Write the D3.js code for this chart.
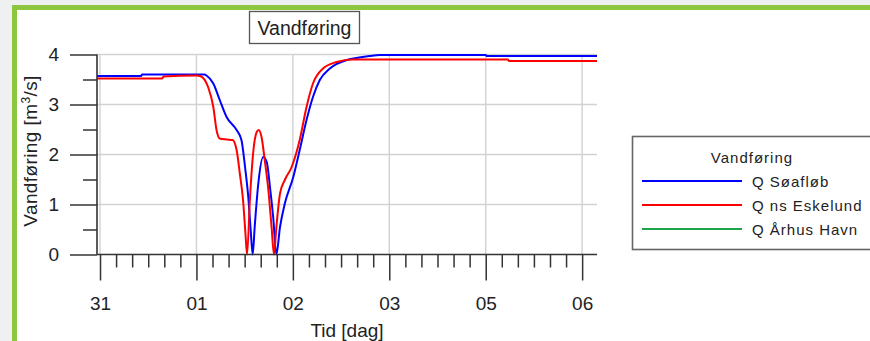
<!DOCTYPE html>
<html>
<head>
<meta charset="utf-8">
<script src="https://cdn.jsdelivr.net/npm/d3@7"></script>
<style>
  html, body { margin: 0; padding: 0; background: #eef0f2; }
  svg { display: block; }
  text { font-family: "Liberation Sans", Arial, sans-serif; fill: #222; }
</style>
</head>
<body>
<svg id="chart" width="870" height="341"></svg>
<script>
// Discharge time series, hours counted from midnight of day "31"
const soeHours = [-0.75, 10.2, 10.5, 26.0, 26.5, 28.2, 29.8, 31.5, 34.0, 35.2, 36.1, 36.9, 37.5, 38.0, 38.5, 39.4, 40.6, 41.5, 42.3, 43.1, 43.9, 44.8, 46.0, 48.1, 49.7, 51.4, 53.0, 54.7, 57.2, 61.4, 64.5, 67.1, 69.6, 96.0, 96.3, 123.7];
const soeFlow  = [3.57, 3.57, 3.60, 3.60, 3.58, 3.42, 3.09, 2.75, 2.49, 2.29, 1.75, 1.15, 0.49, 0.0, 0.55, 1.42, 1.95, 1.85, 1.35, 0.75, 0.0, 0.55, 1.02, 1.55, 2.09, 2.69, 3.15, 3.49, 3.72, 3.89, 3.94, 3.97, 3.99, 3.99, 3.97, 3.97];

const eskHours = [-0.75, 15.5, 15.8, 24.0, 24.9, 26.9, 28.2, 29.0, 29.8, 31.5, 33.0, 34.0, 34.8, 35.6, 36.2, 36.6, 37.3, 38.1, 39.0, 39.5, 40.2, 41.0, 41.9, 42.7, 43.3, 43.9, 44.8, 46.0, 47.7, 49.7, 51.4, 53.0, 55.5, 58.9, 62.9, 101.5, 101.8, 123.7];
const eskFlow  = [3.52, 3.52, 3.56, 3.58, 3.57, 3.35, 2.95, 2.49, 2.32, 2.30, 2.29, 2.09, 1.62, 1.09, 0.42, 0.0, 1.09, 2.02, 2.45, 2.49, 2.35, 1.89, 1.29, 0.55, 0.0, 0.55, 1.22, 1.49, 1.75, 2.29, 2.95, 3.42, 3.72, 3.85, 3.90, 3.90, 3.87, 3.87];

const seriesNames  = ["Q Søafløb", "Q ns Eskelund", "Q Århus Havn"];
const seriesColors = ["#0000ff", "#ff0000", "#1ea24a"];

const dayTickHours  = [0, 24, 48, 72, 96, 120];
const dayTickLabels = ["31", "01", "02", "03", "05", "06"];
const flowTicks = [0, 1, 2, 3, 4];

const svg = d3.select("#chart");

// Page frame
svg.append("rect").attr("x", 14.5).attr("y", 7.5).attr("width", 900).attr("height", 400)
  .attr("fill", "#ffffff").attr("stroke", "#8dc63f").attr("stroke-width", 5);

const x = d3.scaleLinear().domain([-0.75, 123.7]).range([97, 597]);
const y = d3.scaleLinear().domain([0, 4]).range([254.5, 54.5]);

// Grid
const grid = svg.append("g").attr("stroke", "#d2d2d2").attr("stroke-width", 1.4);
grid.selectAll("line.v").data(dayTickHours).join("line")
  .attr("x1", d => x(d)).attr("x2", d => x(d)).attr("y1", y(4)).attr("y2", y(0));
grid.selectAll("line.h").data(flowTicks.filter(d => d > 0)).join("line")
  .attr("x1", x.range()[0]).attr("x2", x.range()[1]).attr("y1", d => y(d)).attr("y2", d => y(d));

// Series
const line = d3.line().x(d => x(d[0])).y(d => y(d[1])).curve(d3.curveMonotoneX);
const soe = soeHours.map((h, i) => [h, soeFlow[i]]);
const esk = eskHours.map((h, i) => [h, eskFlow[i]]);
svg.append("path").datum(soe).attr("d", line).attr("fill", "none")
  .attr("stroke", seriesColors[0]).attr("stroke-width", 2);
svg.append("path").datum(esk).attr("d", line).attr("fill", "none")
  .attr("stroke", seriesColors[1]).attr("stroke-width", 2);

// Y axis: major and minor ticks
const yMinor = d3.range(0.5, 4, 1);
const yAxisMajor = d3.axisLeft(y).tickValues(flowTicks).tickSize(27).tickPadding(11).tickFormat(d3.format("d"));
const yAxisMinor = d3.axisLeft(y).tickValues(yMinor).tickSize(14).tickFormat("");
const gy = svg.append("g").attr("transform", "translate(97,0)").call(yAxisMajor);
svg.append("g").attr("transform", "translate(97,0)").call(yAxisMinor).select(".domain").remove();
gy.select(".domain").attr("d", `M0,${y(4)}V${y(0)}`);

// X axis: day ticks and 4-hour minor ticks
const xMinor = d3.range(4, 124, 4).filter(h => h % 24 !== 0);
const xAxisMajor = d3.axisBottom(x).tickValues(dayTickHours).tickSize(26).tickPadding(16)
  .tickFormat((d, i) => dayTickLabels[i]);
const xAxisMinor = d3.axisBottom(x).tickValues(xMinor).tickSize(13).tickFormat("");
const gx = svg.append("g").attr("transform", `translate(0,${y(0)})`).call(xAxisMajor);
svg.append("g").attr("transform", `translate(0,${y(0)})`).call(xAxisMinor).select(".domain").remove();
gx.select(".domain").attr("d", `M${x.range()[0]},0H${x.range()[1]}`);

svg.selectAll(".tick line").attr("stroke", "#333").attr("stroke-width", 1.5);
svg.selectAll(".domain").attr("stroke", "#333").attr("stroke-width", 1.6);
svg.selectAll(".tick text").attr("font-size", 19).attr("fill", "#222")
  .attr("font-family", "'Liberation Sans', Arial, sans-serif");

// Axis titles
svg.append("text").attr("x", (x.range()[0] + x.range()[1]) / 2).attr("y", 337)
  .attr("text-anchor", "middle").attr("font-size", 19).text("Tid [dag]");
const yl = svg.append("text").attr("transform", "translate(37,151) rotate(-90)")
  .attr("text-anchor", "middle").attr("font-size", 19).attr("letter-spacing", 0.4);
yl.append("tspan").text("Vandføring [m");
yl.append("tspan").attr("font-size", 12).attr("dy", -7).text("3");
yl.append("tspan").attr("dy", 7).text("/s]");

// Title box
svg.append("rect").attr("x", 249.5).attr("y", 11.5).attr("width", 110).attr("height", 32)
  .attr("fill", "#fff").attr("stroke", "#555").attr("stroke-width", 1.3);
svg.append("text").attr("x", 304.5).attr("y", 35).attr("text-anchor", "middle")
  .attr("font-size", 19.5).text("Vandføring");

// Legend
const lg = svg.append("g");
lg.append("rect").attr("x", 632.5).attr("y", 136.5).attr("width", 260).attr("height", 113)
  .attr("fill", "#fff").attr("stroke", "#666").attr("stroke-width", 1.6);
lg.append("text").attr("x", 752).attr("y", 163).attr("text-anchor", "middle")
  .attr("font-size", 15).attr("letter-spacing", 1).text("Vandføring");
const items = lg.selectAll("g.item").data(seriesNames).join("g")
  .attr("transform", (d, i) => `translate(0,${181 + i * 24})`);
items.append("line").attr("x1", 642).attr("x2", 742).attr("y1", 0).attr("y2", 0)
  .attr("stroke", (d, i) => seriesColors[i]).attr("stroke-width", 2);
items.append("text").attr("x", 752).attr("y", 5.5).attr("font-size", 15)
  .attr("letter-spacing", 1).text(d => d);
</script>
</body>
</html>
